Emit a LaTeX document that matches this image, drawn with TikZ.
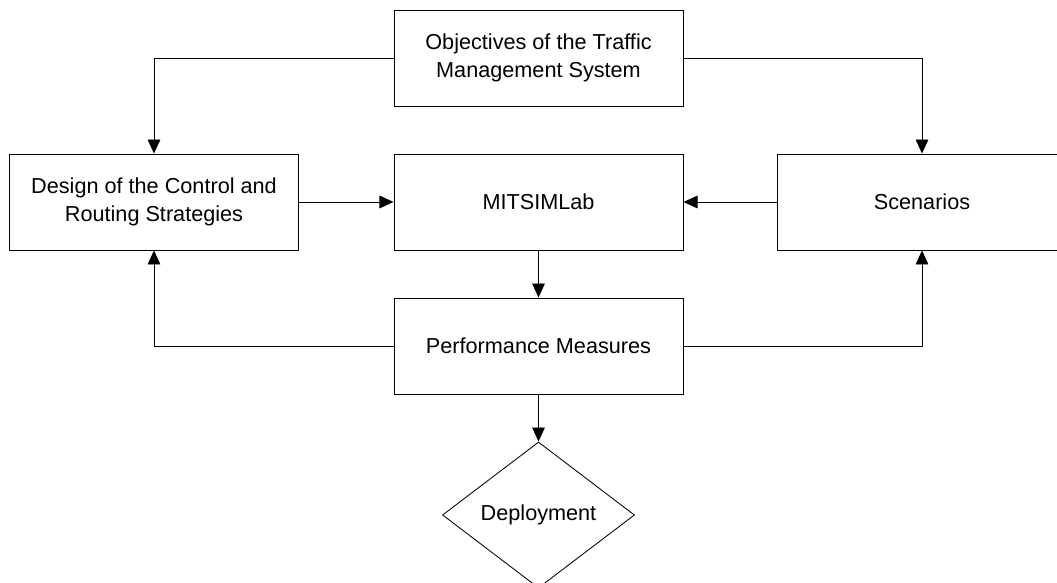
\documentclass[tikz,border=0pt]{standalone}
\usepackage{fontspec}
\setmainfont{Liberation Sans}
\usetikzlibrary{arrows.meta,shapes.geometric}

\tikzset{
	block/.style={draw=black, line width=0.6pt, fill=white, minimum width=7.225cm,
		minimum height=2.4cm, align=center, font=\fontsize{15.4}{20.4}\selectfont},
	decision/.style={draw=black, line width=0.6pt, diamond, inner sep=0pt,
		minimum width=4.8cm, minimum height=3.65cm, font=\fontsize{15.4}{20.4}\selectfont},
	flow/.style={line width=0.6pt, -{Triangle[length=10pt,width=9pt]}}
}

\begin{document}
\begin{tikzpicture}[x=0.025cm, y=-0.025cm]
	\useasboundingbox (0,0) rectangle (1057,583);
	% Kaesten
	\node[block] (ziele) at (538.5, 58) {Objectives of the Traffic\\Management System};
	\node[block] (entwurf) at (154, 202) {Design of the Control and\\Routing Strategies};
	\node[block] (mitsim) at (538.5, 202) {MITSIMLab};
	\node[block] (szen) at (922, 202) {Scenarios};
	\node[block] (mass) at (538.5, 346) {Performance Measures};
	\node[decision] (einsatz) at (538.5, 515) {Deployment};
	% Pfeile
	\draw[flow] (ziele.west) -| (entwurf.north);
	\draw[flow] (ziele.east) -| (szen.north);
	\draw[flow] (entwurf.east) -- (mitsim.west);
	\draw[flow] (szen.west) -- (mitsim.east);
	\draw[flow] (mitsim.south) -- (mass.north);
	\draw[flow] (mass.west) -| (entwurf.south);
	\draw[flow] (mass.east) -| (szen.south);
	\draw[flow] (mass.south) -- (einsatz.north);
\end{tikzpicture}
\end{document}
